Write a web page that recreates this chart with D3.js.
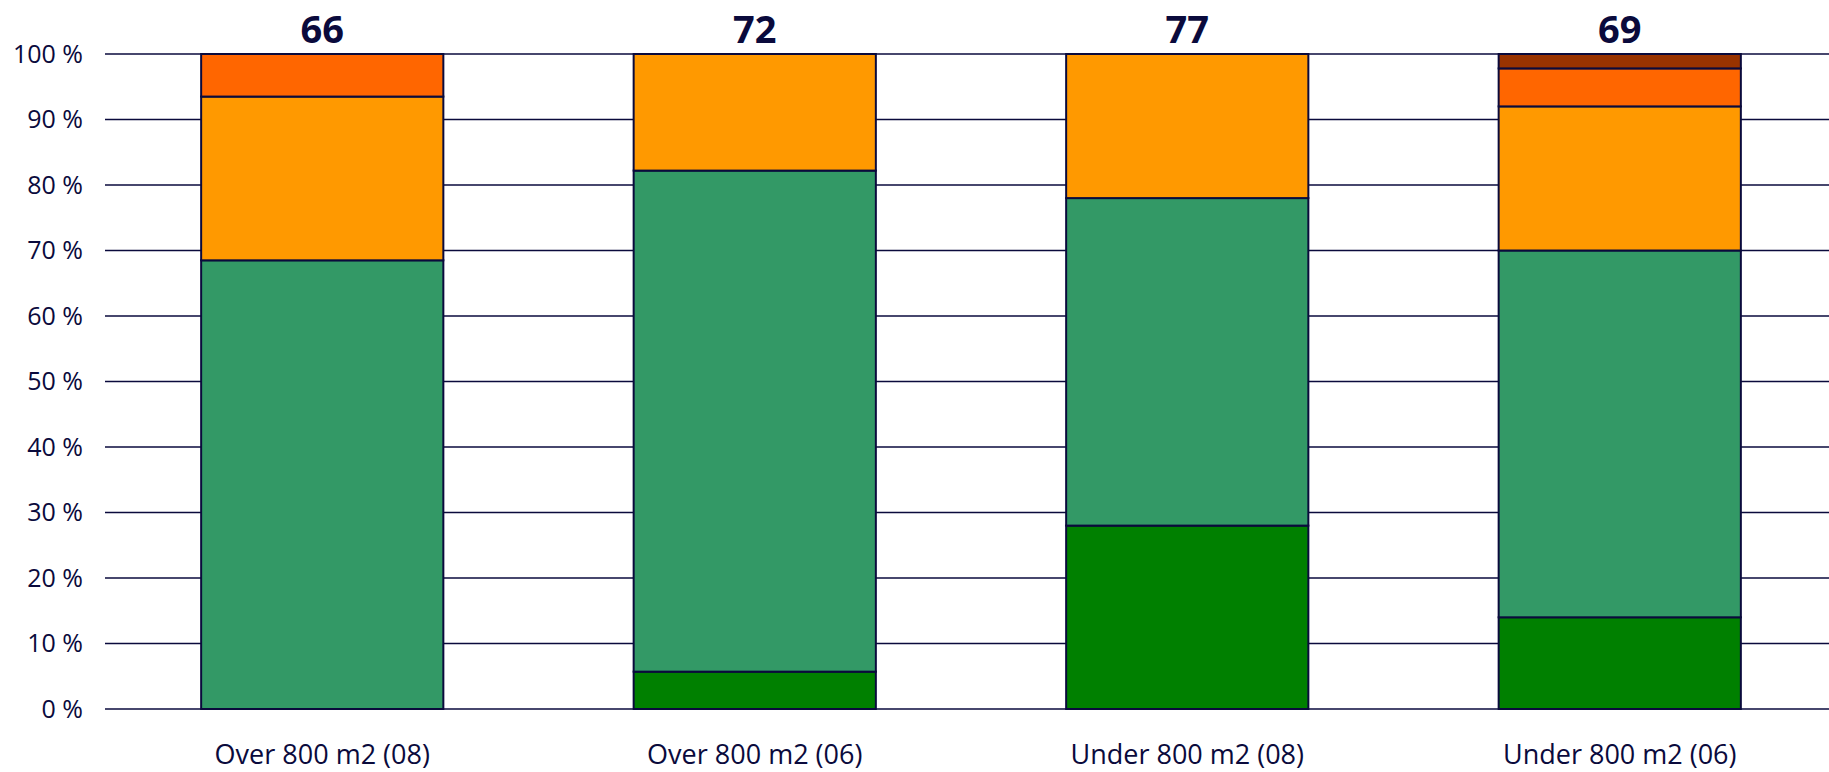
<!DOCTYPE html>
<html>
<head>
<meta charset="utf-8">
<script src="https://cdn.jsdelivr.net/npm/d3@7"></script>
<style>
  html, body { margin: 0; padding: 0; background: #fff; }
  svg { display: block; }
  text { font-family: "Comic Sans MS", "Open Sans", sans-serif; fill: #0a0a3c; }
</style>
</head>
<body>
<svg id="chart" width="1829" height="772"></svg>
<script>
const categories = ["Over 800 m2 (08)", "Over 800 m2 (06)", "Under 800 m2 (08)", "Under 800 m2 (06)"];
const totals = [66, 72, 77, 69];
const seriesKeys = ["s1", "s2", "s3", "s4", "s5"];
const s1 = [0, 5.7, 28, 14];
const s2 = [68.5, 76.5, 50, 56];
const s3 = [25, 17.8, 22, 22];
const s4 = [6.5, 0, 0, 5.8];
const s5 = [0, 0, 0, 2.2];
const colors = ["#008000", "#339966", "#FF9900", "#FF6600", "#993300"];
const yTicks = [0, 10, 20, 30, 40, 50, 60, 70, 80, 90, 100];

const seriesValues = [s1, s2, s3, s4, s5];
const rows = categories.map((c, i) => {
  const r = { category: c };
  seriesKeys.forEach((k, j) => r[k] = seriesValues[j][i]);
  return r;
});

const svg = d3.select("#chart");
const W = 1829;
const x = d3.scaleBand().domain(categories).range([106, 1836]).paddingInner(0.44).paddingOuter(0.22);
const y = d3.scaleLinear().domain([0, 100]).range([709, 54]);
const ink = "#0a0a3c";

// gridlines
svg.append("g").selectAll("line").data(yTicks).join("line")
  .attr("x1", 105).attr("x2", W)
  .attr("y1", d => y(d)).attr("y2", d => y(d))
  .attr("stroke", ink).attr("stroke-width", 1.6);

// y axis labels
const yAxis = d3.axisLeft(y).tickValues(yTicks).tickSize(0).tickPadding(0).tickFormat(d => d + " %");
const ga = svg.append("g").attr("transform", "translate(83,0)").call(yAxis);
ga.select(".domain").remove();
ga.selectAll("text").attr("font-size", 25).style("font-family", '"Comic Sans MS", "Open Sans", sans-serif').attr("fill", ink);

// stacked bars
const stack = d3.stack().keys(seriesKeys)(rows);
svg.append("g").selectAll("g").data(stack).join("g")
  .attr("fill", (d, i) => colors[i])
  .selectAll("rect").data(d => d.filter(p => p[1] - p[0] > 0)).join("rect")
  .attr("x", d => x(d.data.category))
  .attr("width", x.bandwidth())
  .attr("y", d => y(d[1]))
  .attr("height", d => y(d[0]) - y(d[1]))
  .attr("stroke", ink).attr("stroke-width", 2);

// totals
svg.append("g").selectAll("text").data(categories).join("text")
  .attr("x", d => x(d) + x.bandwidth() / 2)
  .attr("y", 43)
  .attr("text-anchor", "middle")
  .attr("font-size", 38).attr("font-weight", "bold")
  .text((d, i) => totals[i]);

// x labels
svg.append("g").selectAll("text").data(categories).join("text")
  .attr("x", d => x(d) + x.bandwidth() / 2)
  .attr("y", 764)
  .attr("text-anchor", "middle")
  .attr("font-size", 27)
  .text(d => d);
</script>
</body>
</html>
